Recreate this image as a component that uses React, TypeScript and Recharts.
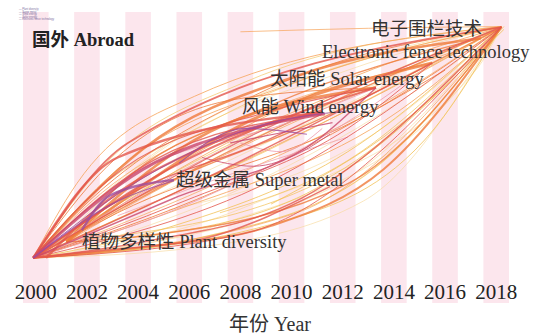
import { LineChart, Line, XAxis, YAxis, ReferenceArea } from "recharts";

// year ticks along the bottom (pink band behind each one)
const years = [2000, 2002, 2004, 2006, 2008, 2010, 2012, 2014, 2016, 2018];

// each flow = list of [year, position] points, grouped by colour
const paleFlows = [
  [[1999.9, 15.5], [2007.2, 27], [2016.2, 70], [2018.2, 94.8]],
  [[1999.9, 15.5], [2005.2, 55], [2013.2, 85], [2018.2, 95]],
  [[2002.2, 20], [2008.2, 40], [2015.2, 75], [2018.2, 94.8]],
  [[1999.9, 15.5], [2011.2, 38], [2018.2, 94.8]],
  [[2004.2, 35], [2010.2, 60], [2017.2, 90]],
  [[1999.9, 15.5], [2003.8, 37], [2011.2, 67], [2018.2, 94.8]],
  [[1999.9, 15.5], [2008.2, 33], [2017.2, 80], [2018.2, 94.8]],
  [[2000.8, 20], [2004.2, 48], [2012.2, 80], [2018.2, 95]],
  [[2005.2, 32], [2013.2, 58], [2018.2, 94.8]],
  [[1999.9, 15.5], [2006.2, 19], [2012.8, 35], [2018.2, 94.8]],
];
const yellowFlows = [
  [[1999.9, 15.5], [2006.2, 22], [2013.2, 46], [2018.2, 94.8]],
  [[1999.9, 15.5], [2009.2, 27], [2015.2, 56], [2018.2, 94.8]],
  [[2003.2, 22], [2010.2, 36], [2016.2, 76], [2018.3, 95]],
  [[1999.9, 15.5], [2004.2, 39], [2012.2, 73], [2018.2, 95]],
  [[2007.2, 31], [2012.2, 49], [2017.2, 86]],
  [[1999.9, 15.5], [2002.2, 43], [2008.2, 76], [2018.2, 95]],
  [[2009.2, 34], [2014.2, 61], [2018.3, 94]],
  [[1999.9, 15.5], [2003.2, 29], [2009.2, 53], [2018.2, 94.8]],
  [[1999.9, 15.5], [2005.2, 26], [2012.2, 52], [2018.2, 94.8]],
  [[2002.2, 22], [2011.2, 42], [2018.2, 94.8]],
  [[1999.9, 15.5], [2001.8, 34], [2007.2, 64], [2018.2, 95]],
];
const lightFlows = [
  [[1999.9, 15.5], [2001.6, 41], [2006.2, 71], [2018.2, 95]],
  [[1999.9, 15.5], [2003.2, 46], [2010.2, 76], [2018.2, 94.8]],
  [[1999.9, 15.5], [2005.2, 31], [2014.2, 66], [2018.2, 94.8]],
  [[2008, 93.2], [2013, 94.4], [2018.2, 95]],
  [[2001.8, 25], [2006.2, 49], [2016.2, 86]],
  [[1999.9, 15.5], [2010.2, 31], [2018.2, 94.8]],
  [[2001.2, 21], [2005.2, 41], [2014.2, 78]],
  [[1999.9, 15.5], [2004.8, 44], [2012.5, 78], [2018.2, 94.8]],
  [[1999.9, 15.5], [2006.8, 40], [2014.8, 75], [2018.2, 95]],
  [[2001.2, 21], [2007.2, 45], [2015.2, 80], [2018.2, 94.8]],
  [[1999.9, 15.5], [2002.6, 38], [2009.8, 69], [2015.5, 82.5]],
];
const orangeFlows = [
  [[2001.2, 21], [2006.2, 56], [2013.3, 74]],
  [[2001.2, 21], [2008, 61], [2015.5, 82.5]],
  [[1999.9, 15.5], [2004.2, 53], [2010.2, 78], [2017.4, 91]],
  [[1999.9, 15.5], [2006.2, 46], [2018.2, 94.8]],
  [[1999.9, 15.5], [2002.2, 36], [2009.2, 74], [2018.2, 94.8]],
  [[1999.9, 15.5], [2007.2, 39], [2016, 80]],
  [[2001.2, 21], [2004.2, 23], [2012.2, 41], [2018.2, 94.8]],
  [[1999.9, 15.5], [2003.2, 31], [2013.2, 66], [2018.2, 94.8]],
  [[1999.9, 15.5], [2004.8, 40], [2010.8, 62], [2018.2, 94.8]],
  [[2001.2, 21], [2003.2, 40], [2009.2, 68], [2017.4, 91]],
  [[1999.9, 15.5], [2002.8, 47], [2007.8, 70], [2013.3, 74]],
  [[1999.9, 15.5], [2004.5, 19.5], [2009.2, 26.5], [2013.6, 46], [2018.2, 94.8]],
];
const pinkFlows = [
  [[1999.9, 15.5], [2005.2, 43], [2018.2, 94.8]],
  [[2008, 55], [2009.6, 52], [2011.2, 60]],
  [[1999.9, 15.5], [2006.5, 36], [2012.5, 64], [2015.5, 82.5]],
  [[1999.9, 15.5], [2003.2, 41], [2010.2, 63], [2013.3, 74]],
  [[2003.2, 30], [2008.2, 46], [2012.2, 57]],
];
const redFlows = [
  [[1999.9, 15.5], [2003.2, 50], [2011.2, 65.5]],
  [[1999.9, 15.5], [2004.6, 49], [2011.2, 65]],
  [[1999.9, 15.5], [2005.2, 46], [2013.3, 74]],
  [[1999.9, 15.5], [2003.6, 55], [2018.2, 94.8]],
  [[1999.9, 15.5], [2007.2, 52], [2018.2, 94.8]],
  [[1999.9, 15.5], [2006.2, 41], [2015.5, 82.5]],
  [[2000.4, 15.5], [2002.2, 31], [2006.4, 53], [2011.2, 66]],
  [[1999.9, 15.5], [2009.2, 42], [2018.2, 94.8]],
  [[1999.9, 15.5], [2004.2, 21], [2010.4, 36], [2018.2, 94.8]],
  [[1999.9, 15.5], [2008.2, 24], [2018.2, 94.8]],
  [[1999.9, 15.5], [2002.8, 42], [2009.2, 66], [2013.3, 74]],
  [[1999.9, 15.5], [2005.8, 35], [2012.2, 60], [2015.5, 82.5]],
  [[1999.9, 15.5], [2003.8, 38], [2008.8, 55], [2011.2, 65]],
  [[1999.9, 15.5], [2002.5, 18], [2006.5, 22], [2011.5, 40]],
];
const roseFlows = [
  [[1999.9, 15.5], [2004.2, 46], [2008.4, 60], [2011.3, 65]],
  [[2007.6, 55], [2009.6, 58.5], [2011.6, 62]],
  [[1999.9, 15.5], [2005.4, 36], [2011, 56], [2013.3, 74]],
  [[2006.5, 50], [2008.5, 47], [2010.4, 52], [2011.5, 58]],
];
const purpleFlows = [
  [[2001.8, 25], [2002.9, 37], [2005.4, 42.3]],
  [[1999.9, 15.5], [2003.2, 35], [2005.4, 42]],
  [[2005.6, 48], [2008.2, 60], [2010.6, 58]],
  [[1999.9, 15.5], [2004.2, 43], [2009.2, 62], [2012.2, 66]],
];

const groups = [
  { flows: paleFlows, color: "#f7d99c", widths: [0.8, 0.8, 0.8, 0.8, 0.8, 0.8, 0.8, 0.8, 0.8, 0.8] },
  { flows: yellowFlows, color: "#f3c258", widths: [1.1, 1, 1, 0.9, 0.9, 0.8, 1, 0.9, 1, 0.9, 0.8] },
  { flows: lightFlows, color: "#f6a45a", widths: [1, 1, 1, 0.9, 1, 0.9, 0.9, 1, 0.9, 1, 0.9] },
  { flows: orangeFlows, color: "#ef7a3b", widths: [2.6, 3, 2.6, 1.4, 1, 1, 1.4, 1, 1.2, 1.4, 1, 2] },
  { flows: pinkFlows, color: "#ee9aab", widths: [1, 1, 1, 1, 0.9] },
  { flows: redFlows, color: "#e3564b", widths: [2.4, 1.4, 2, 1.8, 1.1, 1.4, 2.4, 1, 1.4, 1, 1.2, 1, 1.4, 1.6] },
  { flows: roseFlows, color: "#c9466a", widths: [3, 1.2, 1.4, 1] },
  { flows: purpleFlows, color: "#9c4b9e", widths: [2.4, 1.2, 1.2, 1] },
];

const serif = "'Liberation Serif', 'Noto Sans CJK SC', serif";

const labels = [
  { text: "电子围栏技术", x: 371, y: 35 },
  { text: "Electronic fence technology", x: 322, y: 58 },
  { text: "太阳能 Solar energy", x: 270, y: 85 },
  { text: "风能 Wind energy", x: 242, y: 113 },
  { text: "超级金属 Super metal", x: 176, y: 186 },
  { text: "植物多样性 Plant diversity", x: 82, y: 248 },
];

const legendLines = ["— Plant diversity", "— Super metal", "— Wind energy", "— Solar energy", "— Electronic fence technology"];

const YearTick = ({ x, payload }: any) => (
  <text x={x} y={299} textAnchor="middle" fontSize={21} fontFamily={serif} fill="#222">
    {payload.value}
  </text>
);

export default function App() {
  return (
    <div style={{ position: "absolute", left: 0, top: 0, width: 536, height: 336 }}>
      <LineChart width={536} height={336} margin={{ top: 12, right: 27, bottom: 3, left: 23 }}>
        {years.map((y) => (
          <ReferenceArea key={y} x1={y - 0.5} x2={y + 0.5} y1={0} y2={100} fill="#fce6ed" fillOpacity={1} strokeOpacity={0} />
        ))}
        <XAxis
          type="number"
          dataKey="year"
          domain={[1999.5, 2018.5]}
          ticks={years}
          interval={0}
          axisLine={false}
          tickLine={false}
          height={30}
          tick={YearTick}
        />
        <YAxis type="number" dataKey="v" domain={[0, 100]} hide />
        {groups.map((g, gi) =>
          g.flows.map((f, i) => (
            <Line
              key={gi + "-" + i}
              data={f.map(([year, v]) => ({ year, v }))}
              dataKey="v"
              type="monotone"
              stroke={g.color}
              strokeWidth={g.widths[i]}
              strokeOpacity={0.8}
              dot={false}
              activeDot={false}
              isAnimationActive={false}
            />
          ))
        )}
      </LineChart>
      {/* text layer on top of the bands */}
      <svg width={536} height={336} style={{ position: "absolute", left: 0, top: 0, pointerEvents: "none" }}>
        {legendLines.map((t, i) => (
          <text key={t} x={19} y={10 + i * 2.6} fontSize={2.6} fill="#7d6da0" fontFamily="sans-serif">
            {t}
          </text>
        ))}
        <text x={32} y={46} fontSize={18.5} fontWeight="bold" fontFamily={serif} fill="#222">
          国外 Abroad
        </text>
        {labels.map((l) => (
          <text key={l.text} x={l.x} y={l.y} fontSize={18.5} fontFamily={serif} fill="#333">
            {l.text}
          </text>
        ))}
        <text x={270} y={331} textAnchor="middle" fontSize={20} fontFamily={serif} fill="#333">
          年份 Year
        </text>
      </svg>
    </div>
  );
}
